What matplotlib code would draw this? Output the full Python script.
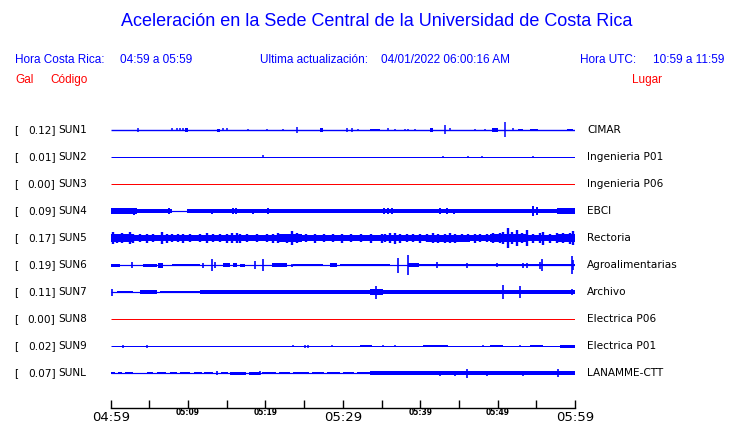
import matplotlib
matplotlib.use("Agg")
import matplotlib.pyplot as plt

# ---------------- data ----------------
codes = ["SUN1", "SUN2", "SUN3", "SUN4", "SUN5", "SUN6", "SUN7", "SUN8", "SUN9", "SUNL"]
peaks = ["0.12", "0.01", "0.00", "0.09", "0.17", "0.19", "0.11", "0.00", "0.02", "0.07"]
places = ["CIMAR", "Ingenieria P01", "Ingenieria P06", "EBCI", "Rectoria",
          "Agroalimentarias", "Archivo", "Electrica P06", "Electrica P01", "LANAMME-CTT"]
active = [True, True, False, True, True, True, True, False, True, True]

# background trace half-width (relative amplitude units)
base_amp = [0.7, 0.5, 0.5, 0.6, 0.6, 0.6, 0.6, 0.5, 0.5, 0.6]

# noise envelope blocks: (start minute, end minute, half amplitude)
sun1_blocks = [(9.6, 10.0, 2), (13.7, 14.1, 1.5), (27.05, 27.44, 2), (33.5, 34.8, 1.3),
               (41.26, 41.65, 2), (49.28, 50.05, 1.7), (52.63, 53.28, 1.3),
               (54.19, 55.22, 1.3), (58.97, 59.75, 1.3)]
sun2_blocks = []
sun3_blocks = []
sun4_blocks = [(0, 3.4, 2.6), (3.4, 7.3, 1.9), (7.3, 7.9, 2.4), (9.9, 60, 1.9),
               (19.7, 21.5, 2.2), (25.8, 27.1, 2.1), (42.2, 44.8, 2.2), (57.7, 60, 2.6)]
sun5_blocks = [(0, 60, 3.1), (0, 3, 3.7), (21.5, 24.7, 3.7), (40.9, 46.4, 3.5),
               (49, 53.8, 3.7), (57.5, 60, 4.0)]
sun6_blocks = [(0, 1.2, 1.5), (4.2, 6, 1.5), (6.1, 6.8, 2.5), (7.9, 11.5, 1.2),
               (14.5, 15.4, 1.8), (15.8, 16.3, 2.2), (16.7, 17.4, 1.5), (20.9, 22.8, 2.2),
               (23.6, 27.4, 1.2), (28.3, 29.3, 2.2), (29.6, 36.1, 1.4),
               (38.4, 39.9, 2.2), (39.9, 60, 1.4)]
sun7_blocks = [(0.8, 2.9, 1.2), (3.8, 6, 1.6), (6.4, 7.7, 1.4), (7.7, 11.5, 1.2),
               (11.5, 60, 1.7), (21.5, 22, 2.3), (23.2, 24.1, 2.3), (25.4, 26.1, 2.3),
               (28.1, 28.5, 2.3), (33.5, 35.2, 2.6), (37.8, 38.3, 2.3), (43.9, 45.1, 2.3),
               (54.2, 55.5, 2.3)]
sun8_blocks = []
sun9_blocks = [(32.2, 33.8, 1.2), (40.4, 43.6, 1.3), (49, 50.7, 1.3),
               (54.2, 55.9, 1.2), (58.1, 60, 1.5)]
sunl_blocks = [(0, 0.5, 1.2), (0.9, 1.5, 1.2), (1.8, 2.9, 1.3), (4.7, 5.5, 1.2),
               (6, 7.2, 1.3), (7.6, 8.6, 1.2), (9, 10.3, 1.3), (10.8, 11.8, 1.2),
               (12.1, 13.2, 1.3), (14.3, 15.2, 1.2), (15.4, 17.5, 1.5), (17.9, 19.3, 1.5),
               (19.5, 21.4, 1.3), (21.8, 23.2, 1.3), (23.6, 25.6, 1.3), (26, 27.6, 1.2),
               (27.9, 29.6, 1.3), (30, 31.5, 1.3), (31.8, 33.5, 1.3), (33.5, 60, 1.7)]

# spikes: (minute, half amplitude)
sun1_spikes = [(3.53, 1.7), (7.88, 1.5), (8.53, 1.5), (8.96, 1.5), (9.38, 1.5),
               (14.51, 1.5), (15.03, 1.5), (17.74, 1), (20.2, 1), (22.27, 1),
               (24.08, 3.3), (30.54, 1.7), (31.19, 1.7), (31.96, 1), (35.84, 1.5),
               (36.74, 1), (38.03, 1), (38.42, 1), (39.33, 1), (43.2, 4.5),
               (43.85, 1.5), (47.08, 1), (48.37, 1), (50.96, 7.5), (51.99, 1.5)]
sun2_spikes = [(19.72, 1.5), (42.94, 1.2), (46.21, 1), (47.95, 1.2), (54.58, 1)]
sun3_spikes = []
sun4_spikes = [(0.4, 3.2), (1.2, 2.8), (2.0, 3.4), (3.0, 3.5), (5.9, 2.4), (7.5, 2.7),
               (13.1, 2.5), (15.8, 2.6), (16.2, 2.8), (18.4, 2.5), (20.3, 2.6),
               (26.3, 2.4), (35.3, 3.2), (35.8, 3.0), (36.3, 2.8), (42.6, 2.6),
               (43.5, 2.8), (44.4, 2.5), (54.6, 5), (55.1, 4), (58.3, 3.0), (59.7, 3.2)]
sun5_spikes = [(0.34, 6), (0.77, 4.5), (1.42, 5), (1.85, 4), (2.49, 6), (2.92, 4.5),
               (3.79, 4), (4.65, 4.5), (5.5, 4), (6.59, 6), (7.23, 4.5), (7.88, 4),
               (8.74, 4), (9.38, 4.5), (10.25, 4), (11.54, 4), (12.4, 5), (13.26, 4),
               (14.12, 4), (14.99, 4.5), (15.63, 5), (16.28, 5), (16.7, 4.5), (17.57, 4),
               (18.86, 4), (20.15, 4), (21.01, 4.5), (21.66, 5), (22.74, 4.5), (23.39, 7),
               (24.03, 5), (25.2, 4), (26.4, 4.5), (27.5, 4), (28.7, 4), (29.9, 4.5),
               (31.0, 4), (32.3, 4), (33.6, 4.5), (35.02, 4.5), (35.45, 4), (36.1, 5),
               (36.74, 5.5), (37.39, 4.5), (38.25, 4), (39.1, 4), (39.97, 4.5), (40.83, 4),
               (41.69, 5), (42.34, 4.5), (43.2, 4.5), (43.85, 5), (44.5, 4.5), (45.36, 4),
               (46.21, 4), (47.08, 4.5), (47.72, 4), (48.58, 4), (49.44, 5), (50.3, 5),
               (50.73, 6), (51.37, 10), (51.81, 6), (52.45, 8), (53.1, 5), (53.75, 8),
               (54.6, 4.5), (55.46, 5), (55.89, 6.5), (56.76, 4.5), (57.62, 5),
               (58.48, 5), (59.34, 5.5), (59.77, 7)]
sun6_spikes = [(2.75, 3), (11.93, 2.5), (13.09, 6), (13.48, 3), (18.65, 4), (19.69, 6),
               (23.43, 1.5), (37.13, 7.5), (38.42, 10), (42.17, 3), (46.05, 2.5),
               (49.92, 2), (53.28, 2.5), (53.8, 2.5), (55.5, 3.5), (55.74, 6),
               (59.62, 9), (59.75, 5)]
sun7_spikes = [(0.17, 3.5), (34.3, 6.5), (50.7, 7), (52.9, 6), (59.6, 3)]
sun8_spikes = []
sun9_spikes = [(1.55, 1.5), (4.65, 1.5), (23.56, 1), (25.11, 1.5), (25.5, 1.5),
               (28.6, 1), (35.19, 1), (36.74, 1), (48.11, 1), (52.89, 1.2)]
sunl_spikes = [(13.74, 2), (19.3, 2), (42.56, 2.5), (44.5, 2.5), (46.05, 4.5),
               (48.63, 2.5), (53.28, 2.5), (57.8, 4)]

blocks = [sun1_blocks, sun2_blocks, sun3_blocks, sun4_blocks, sun5_blocks,
          sun6_blocks, sun7_blocks, sun8_blocks, sun9_blocks, sunl_blocks]
spikes = [sun1_spikes, sun2_spikes, sun3_spikes, sun4_spikes, sun5_spikes,
          sun6_spikes, sun7_spikes, sun8_spikes, sun9_spikes, sunl_spikes]

tick_minutes = [0, 5, 10, 15, 20, 25, 30, 35, 40, 45, 50, 55, 60]
tick_labels = ["04:59", "", "05:09", "", "05:19", "", "05:29", "", "05:39", "", "05:49", "", "05:59"]

title = "Aceleración en la Sede Central de la Universidad de Costa Rica"

# ---------------- figure ----------------
W, H = 740, 423
fig = plt.figure(figsize=(W / 100, H / 100), dpi=100)
BLUE = "#0000ff"
RED = "#ff0000"
spike_lw = [1.1, 1.1, 1.1, 1.4, 1.7, 1.2, 1.2, 1.1, 1.1, 1.2]

def fx(px):
    return px / W

def fy(py):
    return 1 - py / H

x0, x1 = 110.7, 575.0
ytop, ybot = 80.0, 408.0
ax = fig.add_axes([fx(x0), fy(ybot), fx(x1) - fx(x0), (ybot - ytop) / H])
ax.set_xlim(0, 60)
ax.set_ylim(ybot, ytop)
for s in ["top", "left", "right"]:
    ax.spines[s].set_visible(False)
ax.spines["bottom"].set_linewidth(1.0)
ax.set_yticks([])
ax.set_xticks(tick_minutes)
ax.set_xticklabels(tick_labels)
ax.tick_params(axis="x", direction="in", length=5.5, width=1.0, pad=2, colors="black")
for lab in ax.get_xticklabels():
    if lab.get_text() in ("04:59", "05:29", "05:59"):
        lab.set_fontsize(9.5)
    else:
        lab.set_fontsize(5.5)
        lab.set_fontweight("bold")
        lab.set_y(0.008)

row0, row_step = 130.0, 27.0
for i in range(len(codes)):
    yc = row0 + row_step * i
    col = BLUE if active[i] else RED
    ax.hlines(yc, 0, 60, color=col, lw=2 * base_amp[i] * 0.72)
    for (s, e, a) in blocks[i]:
        ax.fill_between([s, e], [yc - a, yc - a], [yc + a, yc + a], color=col, lw=0)
    if spikes[i]:
        ts = [t for t, a in spikes[i]]
        lo = [yc - a for t, a in spikes[i]]
        hi = [yc + a for t, a in spikes[i]]
        ax.vlines(ts, lo, hi, color=col, lw=spike_lw[i], clip_on=False)

    ty = fy(yc)
    fig.text(fx(14), ty, "[", fontsize=7.6, ha="left", va="center", color="black")
    fig.text(fx(55.5), ty, peaks[i] + "]", fontsize=7.6, ha="right", va="center", color="black")
    fig.text(fx(58.5), ty, codes[i], fontsize=7.6, ha="left", va="center", color="black")
    fig.text(fx(587), ty, places[i], fontsize=7.6, ha="left", va="center", color="black")

HF = "Liberation Sans"
fig.text(fx(377), fy(22), title, fontsize=13, family=HF, color=BLUE, ha="center", va="center")
fig.text(fx(15), fy(60), "Hora Costa Rica:", fontsize=8.5, family=HF, color=BLUE, ha="left", va="center")
fig.text(fx(120), fy(60), "04:59 a 05:59", fontsize=8.5, family=HF, color=BLUE, ha="left", va="center")
fig.text(fx(260), fy(60), "Ultima actualización:", fontsize=8.5, family=HF, color=BLUE, ha="left", va="center")
fig.text(fx(381), fy(60), "04/01/2022 06:00:16 AM", fontsize=8.5, family=HF, color=BLUE, ha="left", va="center")
fig.text(fx(580), fy(60), "Hora UTC:", fontsize=8.5, family=HF, color=BLUE, ha="left", va="center")
fig.text(fx(724), fy(60), "10:59 a 11:59", fontsize=8.5, family=HF, color=BLUE, ha="right", va="center")
fig.text(fx(15), fy(80), "Gal", fontsize=8.5, family=HF, color=RED, ha="left", va="center")
fig.text(fx(50), fy(80), "Código", fontsize=8.5, family=HF, color=RED, ha="left", va="center")
fig.text(fx(662), fy(80), "Lugar", fontsize=8.5, family=HF, color=RED, ha="right", va="center")

fig.savefig("out.png", dpi=100)
